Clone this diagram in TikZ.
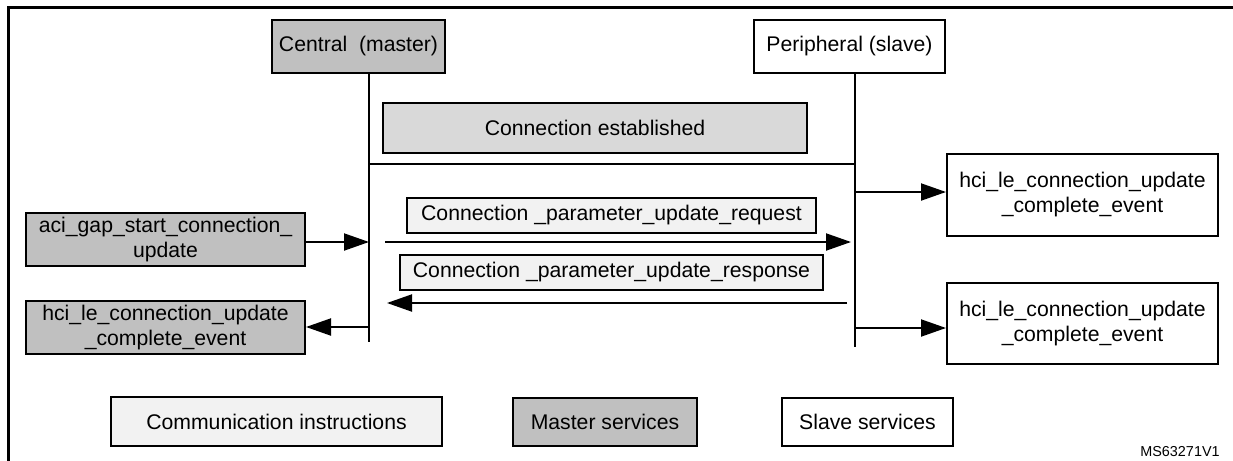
\documentclass[tikz,border=0pt]{standalone}
\usepackage{fontspec}
\setmainfont{Liberation Sans}
\usetikzlibrary{arrows.meta}
\definecolor{mgray}{HTML}{C0C0C0}
\definecolor{cgray}{HTML}{D9D9D9}
\definecolor{lgray}{HTML}{F2F2F2}
\begin{document}
\begin{tikzpicture}[x=0.5pt,y=-0.5pt,
  box/.style={draw=black, line width=1pt, inner sep=0pt, align=center,
    font=\fontsize{10.6}{12.5}\selectfont},
  masterbox/.style={box, fill=mgray},
  slavebox/.style={box, fill=white},
  combox/.style={box, fill=lgray},
  estbox/.style={box, fill=cgray},
  arr/.style={line width=1pt, -{Triangle[length=12.5pt,width=8.5pt]}},
  life/.style={line width=1pt}]
\useasboundingbox (0,0) rectangle (1233,461);
% frame
\draw[line width=1.5pt] (8,461) -- (8,7) -- (1240,7);
% lifeline heads
\node[masterbox, minimum width=86.5pt, minimum height=26.5pt] (central) at (358.5,46.5) {Central\ \ (master)};
\node[slavebox, minimum width=95.5pt, minimum height=26.5pt] (periph) at (849.5,46.5) {Peripheral (slave)};
% lifelines
\coordinate (ctop) at (369,73);
\coordinate (cbot) at (369,342);
\coordinate (ptop) at (855,73);
\coordinate (pbot) at (855,347);
\draw[life] (ctop) -- (cbot);
\draw[life] (ptop) -- (pbot);
\coordinate (hl1) at (369,164);
\coordinate (hl2) at (855,164);
\draw[life] (hl1) -- (hl2);
% connection established
\node[estbox, minimum width=212pt, minimum height=25pt] (est) at (595,128) {Connection established};
% messages
\node[combox, minimum width=204.5pt, minimum height=17.5pt] (req) at (611.5,215.5) {Connection \_parameter\_update\_request};
\node[combox, minimum width=211.5pt, minimum height=17.5pt] (resp) at (611.5,272.5) {Connection \_parameter\_update\_response};
\coordinate (rq1) at (385,242);
\coordinate (rq2) at (851,242);
\draw[arr] (rq1) -- (rq2);
\coordinate (rs1) at (847,303);
\coordinate (rs2) at (387,303);
\draw[arr] (rs1) -- (rs2);
% left boxes
\node[masterbox, minimum width=139.5pt, minimum height=26.5pt] (l1) at (165.5,239.5) {aci\_gap\_start\_connection\_\\update};
\node[masterbox, minimum width=139.5pt, minimum height=26.5pt] (l2) at (165.5,327.5) {hci\_le\_connection\_update\\\_complete\_event};
\coordinate (c1) at (369,242);
\coordinate (c2) at (369,327);
\draw[arr] (l1.east |- c1) -- (c1);
\draw[arr] (c2) -- (c2 -| l2.east);
% right boxes
\node[slavebox, minimum width=135.5pt, minimum height=41pt] (r1) at (1082.5,195) {hci\_le\_connection\_update\\\_complete\_event};
\node[slavebox, minimum width=135.5pt, minimum height=40.5pt] (r2) at (1082.5,323.5) {hci\_le\_connection\_update\\\_complete\_event};
\coordinate (p1) at (855,192);
\coordinate (p2) at (855,328);
\draw[arr] (p1) -- (p1 -| r1.west);
\draw[arr] (p2) -- (p2 -| r2.west);
% legend
\node[combox, minimum width=165.5pt, minimum height=24.5pt] (lgc) at (276.5,421.5) {Communication instructions};
\node[masterbox, minimum width=92pt, minimum height=24pt] (lgm) at (605,422) {Master services};
\node[slavebox, minimum width=85.5pt, minimum height=24pt] (lgs) at (867.5,422) {Slave services};
\node[font=\fontsize{7.2}{8}\selectfont, inner sep=0pt] (id) at (1180,452) {MS63271V1};
\end{tikzpicture}
\end{document}
